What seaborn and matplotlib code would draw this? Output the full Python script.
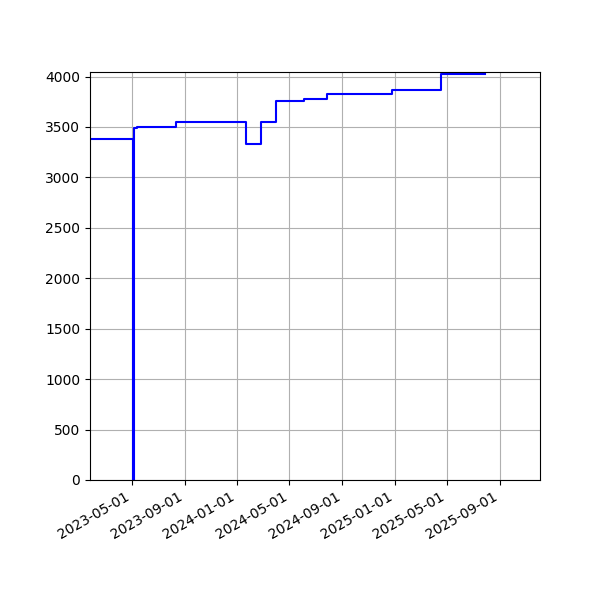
import matplotlib
matplotlib.use("Agg")
import matplotlib.pyplot as plt
import matplotlib.dates as mdates
import pandas as pd
import seaborn as sns

dates = ["2023-01-24", "2023-05-05", "2023-05-07", "2023-05-13", "2023-08-12",
         "2024-01-21", "2024-02-25", "2024-03-31", "2024-06-05", "2024-07-27",
         "2024-12-26", "2025-04-19", "2025-07-30"]
values = [3380, 0, 3485, 3500, 3545, 3333, 3545, 3753, 3775, 3826, 3868, 4022, 4022]

df = pd.DataFrame({"date": pd.to_datetime(dates), "value": values})

fig, ax = plt.subplots(figsize=(6, 6), dpi=100)
sns.lineplot(data=df, x="date", y="value", ax=ax, color="blue",
             drawstyle="steps-post", linewidth=1.5, estimator=None)
ax.set_xlabel("")
ax.set_ylabel("")
ax.grid(True, color="#b0b0b0", linewidth=0.8)
ax.set_xlim(pd.Timestamp("2023-01-24"), pd.Timestamp("2025-12-04"))
ax.set_ylim(0, 4045)
ax.xaxis.set_major_locator(mdates.MonthLocator(bymonth=[1, 5, 9]))
ax.xaxis.set_major_formatter(mdates.DateFormatter("%Y-%m-%d"))
fig.autofmt_xdate()
fig.subplots_adjust(left=0.15, right=0.9, top=0.88, bottom=0.2)
fig.savefig("out.png", dpi=100)
